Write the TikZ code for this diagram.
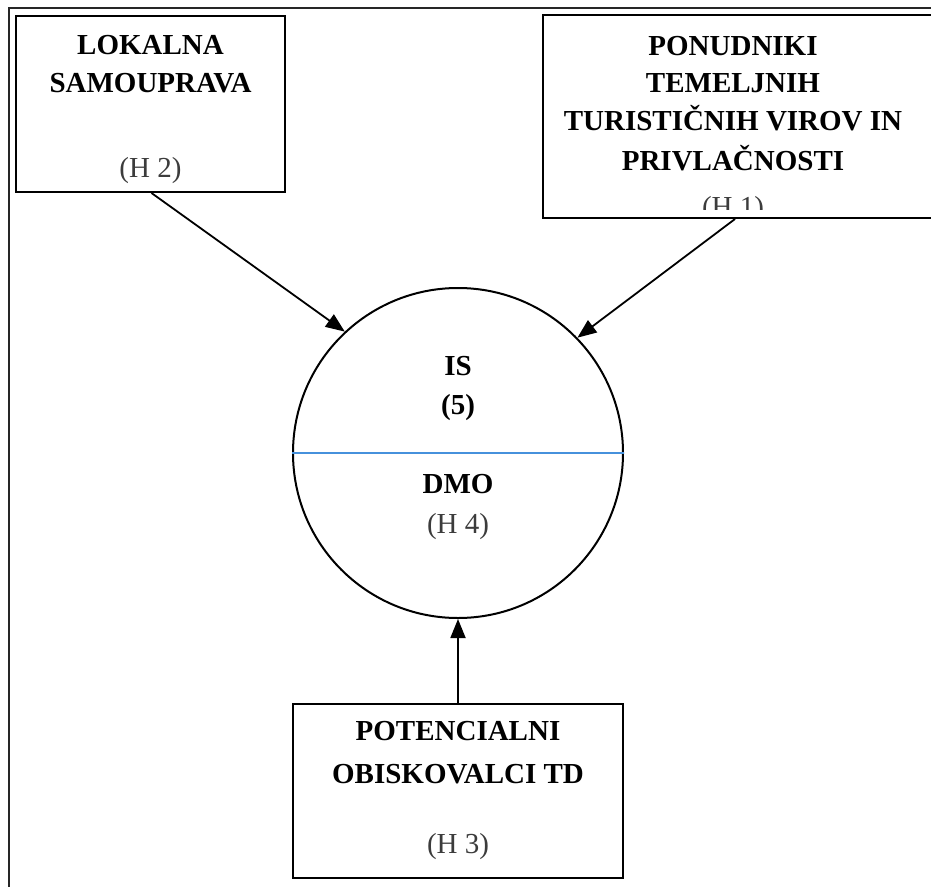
\documentclass[tikz,border=0pt]{standalone}
\usepackage{fontspec}
\setmainfont{Liberation Serif}
\usetikzlibrary{arrows.meta}
\definecolor{divblue}{RGB}{70,145,220}
\definecolor{hgray}{RGB}{60,60,60}
\tikzset{
  boxnode/.style={draw=black, line width=2pt, rectangle, inner sep=0pt},
  circnode/.style={draw=black, line width=2pt, circle, inner sep=0pt, minimum size=330pt},
  lbl/.style={anchor=base, inner sep=0pt, font=\bfseries\fontsize{29}{34}\selectfont},
  hn/.style={anchor=base, inner sep=0pt, text=hgray, font=\fontsize{29}{34}\selectfont},
  conn/.style={line width=1.8pt, -{Triangle[length=19pt,width=15pt]}},
  framel/.style={line width=2.6pt, draw=black!85}
}
\begin{document}
\begin{tikzpicture}[x=1pt,y=-1pt]
\useasboundingbox (0,0) rectangle (931,886);
% outer frame (only top and left visible)
\coordinate (ftl) at (9,8);
\coordinate (ftr) at (940,8);
\coordinate (fbl) at (9,895);
\draw[framel] (fbl) -- (ftl) -- (ftr);

% boxes
\node[boxnode, minimum width=269pt, minimum height=176pt] (b2) at (150.5,104) {};
\node[boxnode, minimum width=400pt, minimum height=203pt] (b1) at (743,116.5) {};
\node[boxnode, minimum width=330pt, minimum height=174pt] (b3) at (458,791) {};
\node[circnode] (c) at (458,453) {};
\draw[divblue, line width=1.3pt] (c.west) -- (c.east);

% texts box H2
\node[lbl] (t2a) at (150.5,54) {LOKALNA};
\node[lbl] (t2b) at (150.5,92) {SAMOUPRAVA};
\node[hn] (t2c) at (150.5,177) {(H 2)};

% texts box H1
\node[lbl] (t1a) at (733,55) {PONUDNIKI};
\node[lbl] (t1b) at (733,92) {TEMELJNIH};
\node[lbl] (t1c) at (733,130.5) {TURISTIČNIH VIROV IN};
\node[lbl] (t1d) at (733,170) {PRIVLAČNOSTI};
\begin{scope}
\clip (543,15) rectangle (931,209);
\node[hn] (t1e) at (733,216) {(H 1)};
\end{scope}

% circle texts
\node[lbl] (tca) at (458,375) {IS};
\node[lbl] (tcb) at (458,414) {(5)};
\node[lbl] (tcc) at (458,493) {DMO};
\node[hn] (tcd) at (458,533) {(H 4)};

% texts box H3
\node[lbl] (t3a) at (458,740) {POTENCIALNI};
\node[lbl] (t3b) at (458,783) {OBISKOVALCI TD};
\node[hn] (t3c) at (458,853) {(H 3)};

% connectors
\draw[conn] ([xshift=1pt]b2.south) -- (c.133);
\draw[conn] ([xshift=-8pt]b1.south) -- (c.44);
\draw[conn] (b3.north) -- (c.south);
\end{tikzpicture}
\end{document}
